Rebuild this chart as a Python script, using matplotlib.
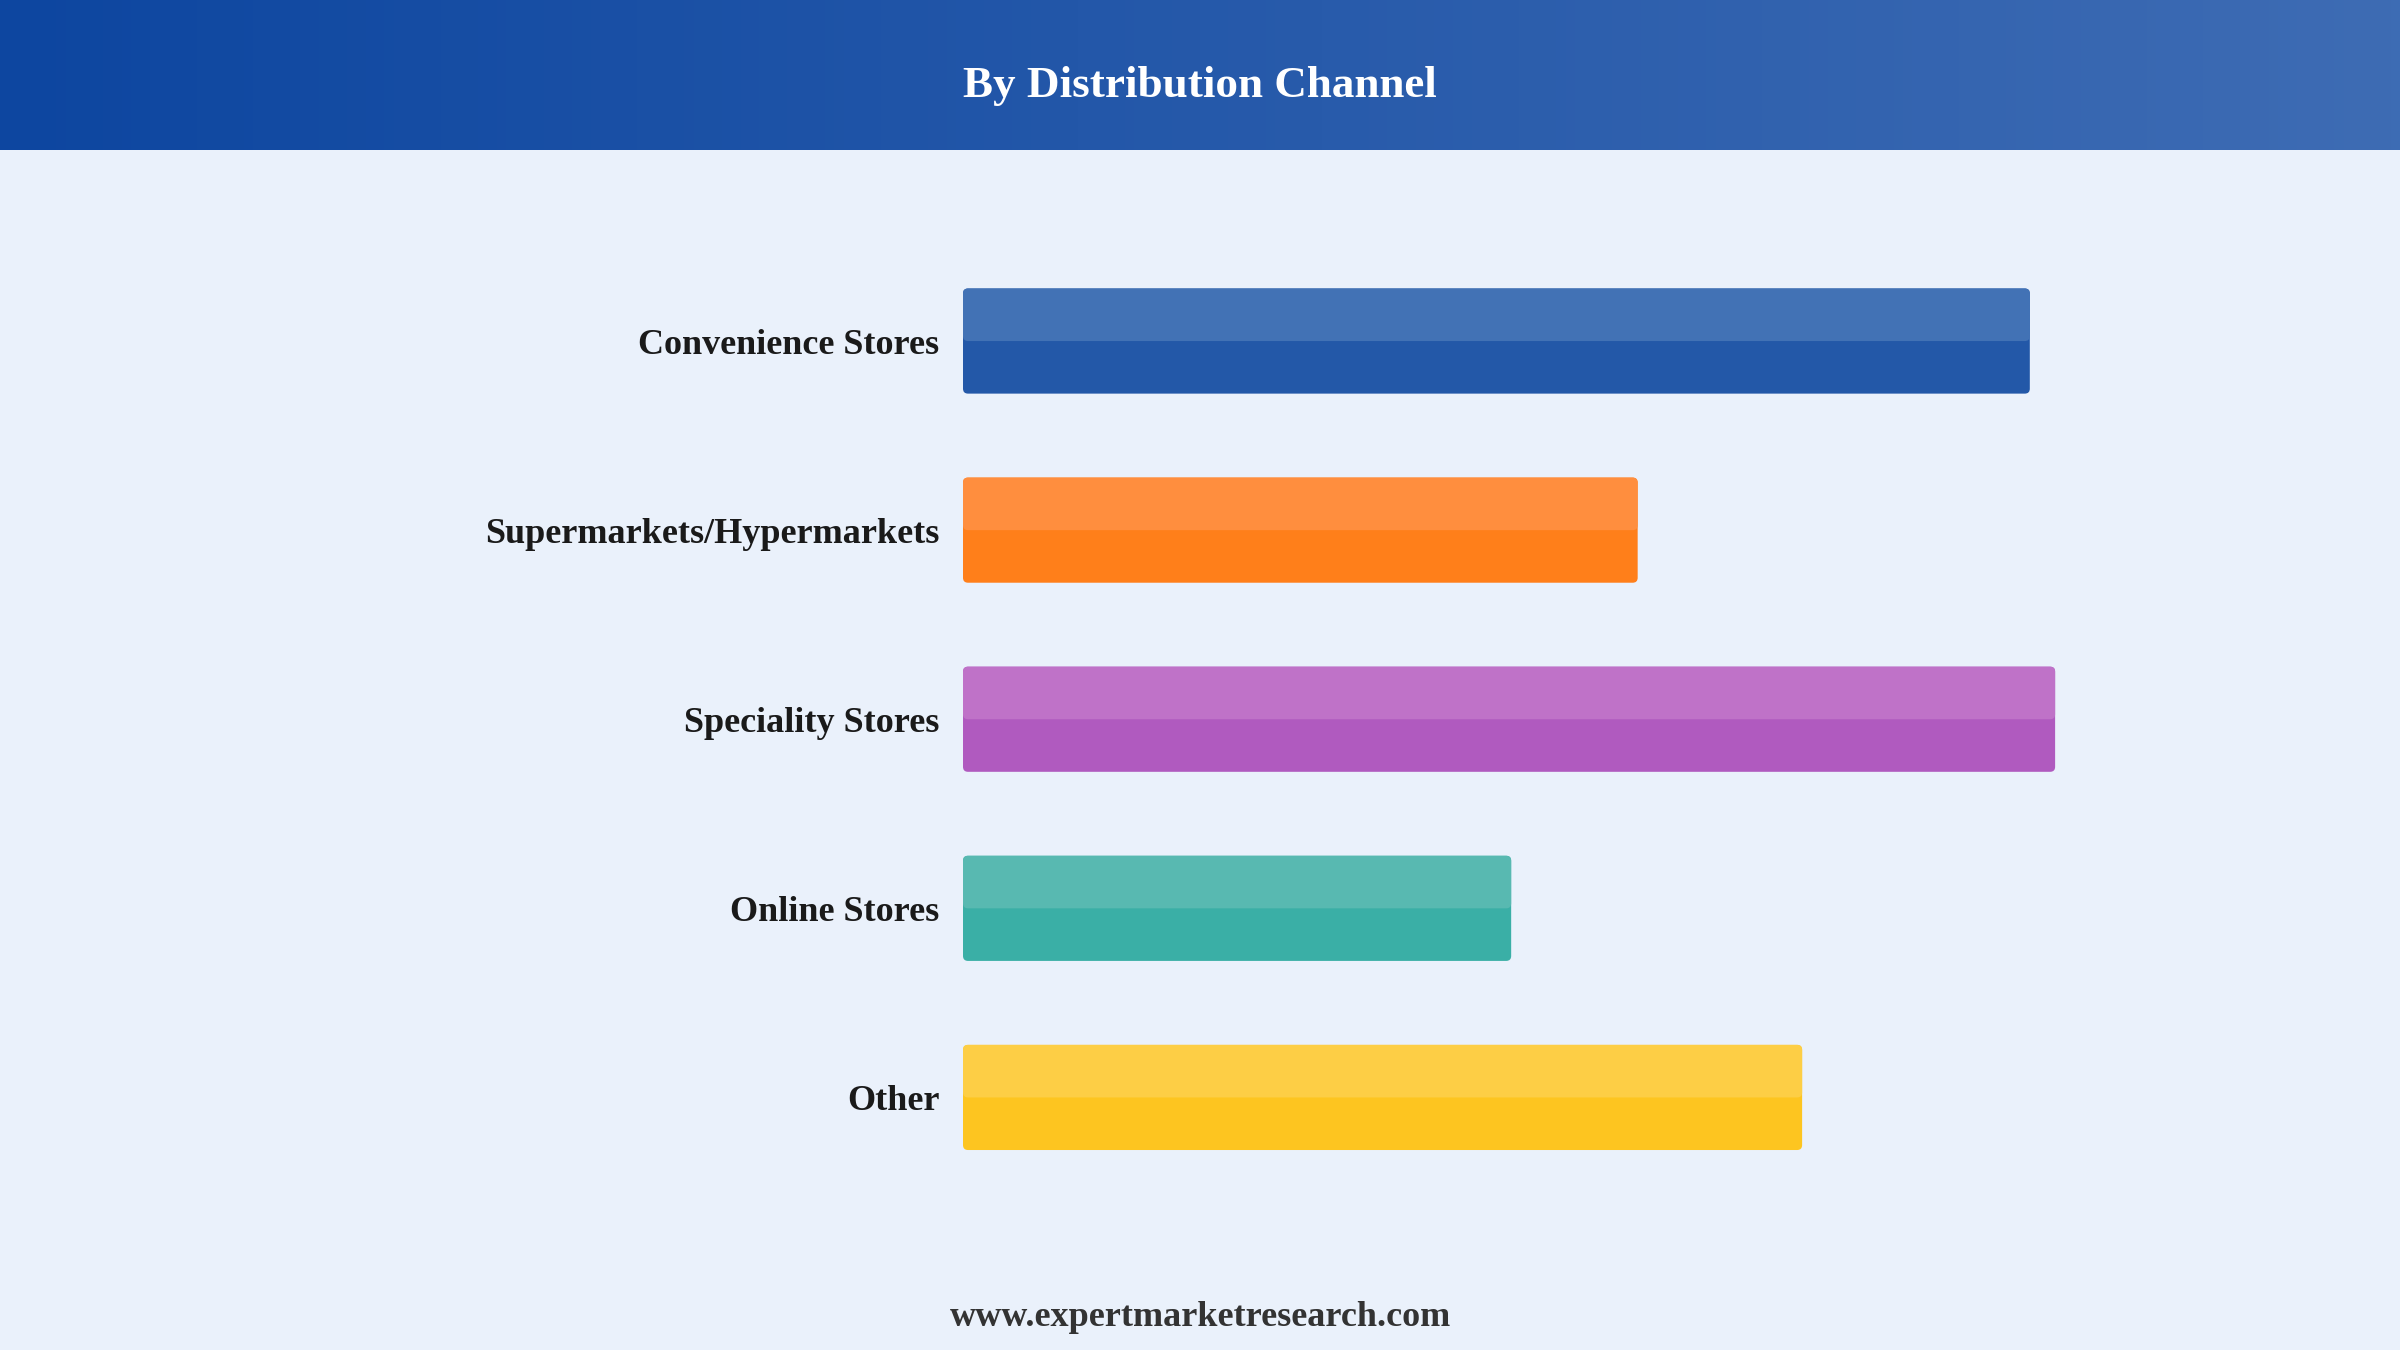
import numpy as np
import matplotlib
matplotlib.use("Agg")
import matplotlib.pyplot as plt
from matplotlib.patches import FancyBboxPatch

# data (share of market)
channels = ["Convenience Stores", "Supermarkets/Hypermarkets", "Speciality Stores",
            "Online Stores", "Other"]
shares = [25.3, 16.0, 25.9, 13.0, 19.9]
bar_colors = ["#2358A8", "#FF7F1A", "#B05ABF", "#3AAFA6", "#FDC520"]
top_colors = ["#4272B5", "#FF8E3E", "#BF72C8", "#58B9B1", "#FDCE45"]

title = "By Distribution Channel"
footer = "www.expertmarketresearch.com"

W, H = 2400, 1350
fig = plt.figure(figsize=(24, 13.5), dpi=100)
fig.patch.set_facecolor("#EAF1FB")

# header band with horizontal gradient
hdr = fig.add_axes([0, 1 - 150 / H, 1, 150 / H])
grad = np.linspace(0, 1, 256)
c0 = np.array([13, 70, 160]) / 255
c1 = np.array([62, 108, 180]) / 255
img = c0[None, :] + grad[:, None] * (c1 - c0)[None, :]
hdr.imshow(img[None, :, :], aspect="auto", extent=[0, 1, 0, 1])
hdr.set_axis_off()
hdr.text(0.5, 0.43, title, color="white", fontsize=32.5, fontweight="bold",
         family="Liberation Serif", ha="center", va="center")

# bar axes
left = 963 / W
ax_w = 1265 / W
top_px, bot_px = 246.5, 1192
ax = fig.add_axes([left, (H - bot_px) / H, ax_w, (bot_px - top_px) / H])
ax.set_facecolor("none")
ax.set_xlim(0, 30)
ax.set_ylim(len(channels) - 0.5, -0.5)
for s in ax.spines.values():
    s.set_visible(False)
ax.set_xticks([])
ax.set_yticks(range(len(channels)))
ax.set_yticklabels(channels, family="Liberation Serif", fontweight="bold",
                   fontsize=26, color="#1a1a1a")
ax.tick_params(axis="y", length=0, pad=17)

bh = 0.556
px_x = 1265 / 30
px_y = (bot_px - top_px) / len(channels)
r_px = 5
for i, (v, c, tc) in enumerate(zip(shares, bar_colors, top_colors)):
    rs = r_px / px_x
    asp = (r_px / px_y) / rs
    ax.add_patch(FancyBboxPatch((0, i - bh / 2), v, bh,
                                boxstyle=f"round,pad=0,rounding_size={rs}",
                                mutation_aspect=asp, fc=c, ec="none"))
    ax.add_patch(FancyBboxPatch((0, i - bh / 2), v, bh / 2,
                                boxstyle=f"round,pad=0,rounding_size={rs}",
                                mutation_aspect=asp, fc=tc, ec="none"))

fig.text(0.5, 1 - 1318 / H, footer, ha="center", va="center", fontsize=26,
         fontweight="bold", family="Liberation Serif", color="#333333")

fig.savefig("out.png", dpi=100, facecolor=fig.get_facecolor())
